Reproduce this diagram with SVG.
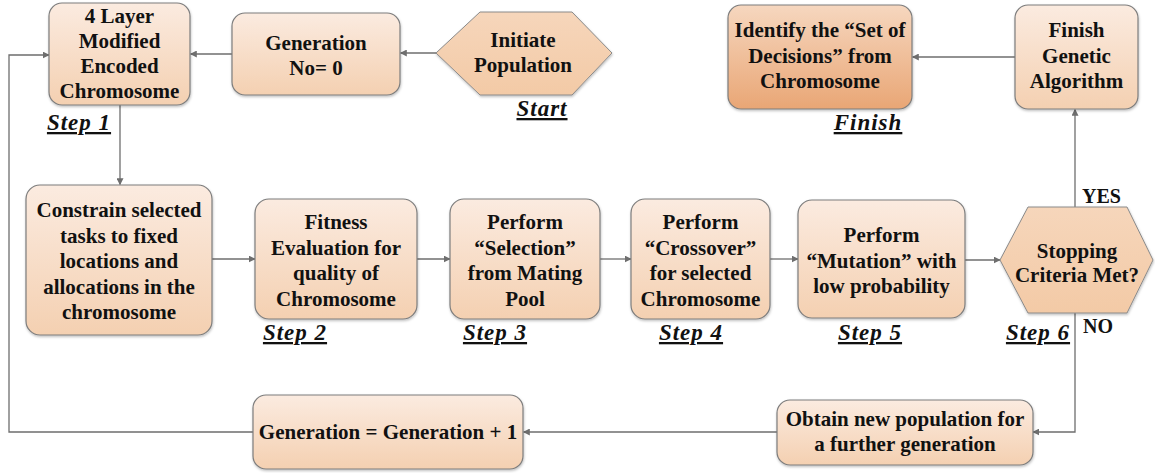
<svg xmlns="http://www.w3.org/2000/svg" width="1155" height="473" viewBox="0 0 1155 473">
  <defs>
    <linearGradient id="boxFill" x1="0" y1="0" x2="0" y2="1">
      <stop offset="0" stop-color="#fbebe0"/>
      <stop offset="1" stop-color="#f4d0b1"/>
    </linearGradient>
    <linearGradient id="hexFill" x1="0" y1="0" x2="0" y2="1">
      <stop offset="0" stop-color="#f6d6bb"/>
      <stop offset="1" stop-color="#f3caa6"/>
    </linearGradient>
    <linearGradient id="darkFill" x1="0" y1="0" x2="0" y2="1">
      <stop offset="0" stop-color="#f6d7bf"/>
      <stop offset="1" stop-color="#e9a675"/>
    </linearGradient>
    <filter id="shadow" x="-10%" y="-10%" width="120%" height="130%">
      <feDropShadow dx="0.5" dy="1.5" stdDeviation="1" flood-color="#000" flood-opacity="0.25"/>
    </filter>
    <marker id="arrow" viewBox="0 0 10 10" refX="9" refY="5" markerWidth="7" markerHeight="7" markerUnits="userSpaceOnUse" orient="auto">
      <path d="M0,0 L10,5 L0,10 Z" fill="#6e6e6e"/>
    </marker>
    <style>
      .box { fill: url(#boxFill); stroke: #7d7d7d; stroke-width: 1.2; filter: url(#shadow); }
      .hex { fill: url(#hexFill); stroke: #8a8a8a; stroke-width: 1; filter: url(#shadow); }
      .dark { fill: url(#darkFill); stroke: #7d7d7d; stroke-width: 1.2; filter: url(#shadow); }
      text { font-family: 'Liberation Serif', 'DejaVu Serif', serif; fill: #111; font-weight: bold; }
      .lbl { font-size: 21px; text-anchor: middle; }
      .step { font-style: italic; font-size: 23px; letter-spacing: 1px; text-anchor: middle; text-decoration: underline; }
      .yn { font-size: 20px; }
      .conn { fill: none; stroke: #6e6e6e; stroke-width: 1.3; marker-end: url(#arrow); }
    </style>
  </defs>

  <rect width="1155" height="473" fill="#ffffff"/>

  <!-- connectors -->
  <g id="connectors">
    <line class="conn" x1="436" y1="53" x2="400.5" y2="53"/>
    <line class="conn" x1="232" y1="54" x2="190.5" y2="54"/>
    <line class="conn" x1="120" y1="105" x2="120" y2="184.5"/>
    <line class="conn" x1="212" y1="259" x2="255" y2="259"/>
    <line class="conn" x1="417" y1="259" x2="450" y2="259"/>
    <line class="conn" x1="600" y1="259" x2="631" y2="259"/>
    <line class="conn" x1="770" y1="259" x2="798" y2="259"/>
    <line class="conn" x1="965" y1="260" x2="1000" y2="260"/>
    <line class="conn" x1="1075" y1="207" x2="1075" y2="109.5"/>
    <line class="conn" x1="1015" y1="57" x2="912.5" y2="57"/>
    <polyline class="conn" points="1075,313 1075,432 1033,432"/>
    <line class="conn" x1="777" y1="432" x2="523.5" y2="432"/>
    <polyline class="conn" points="253,432 9,432 9,55 49,55"/>
  </g>

  <!-- nodes -->
  <g id="chromosome">
    <rect class="box" x="49" y="3" width="141" height="102" rx="13"/>
    <text class="lbl" x="119.5" y="23">4 Layer</text>
    <text class="lbl" x="119.5" y="48">Modified</text>
    <text class="lbl" x="119.5" y="73">Encoded</text>
    <text class="lbl" x="119.5" y="98">Chromosome</text>
    <text class="step" x="79" y="130">Step 1</text>
  </g>

  <g id="generation-zero">
    <rect class="box" x="232" y="13" width="168" height="82" rx="13"/>
    <text class="lbl" x="316" y="50">Generation</text>
    <text class="lbl" x="316" y="75">No= 0</text>
  </g>

  <g id="initiate">
    <polygon class="hex" points="436,53 480,12 572,12 612,53 572,95 480,95"/>
    <text class="lbl" x="523" y="47">Initiate</text>
    <text class="lbl" x="523" y="72">Population</text>
    <text class="step" x="542" y="116">Start</text>
  </g>

  <g id="identify">
    <rect class="dark" x="728" y="5" width="184" height="104" rx="13"/>
    <text class="lbl" x="820" y="37">Identify the “Set of</text>
    <text class="lbl" x="820" y="63">Decisions” from</text>
    <text class="lbl" x="820" y="88">Chromosome</text>
    <text class="step" x="868" y="130">Finish</text>
  </g>

  <g id="finish-ga">
    <rect class="box" x="1015" y="5" width="123" height="104" rx="13"/>
    <text class="lbl" x="1076.5" y="37">Finish</text>
    <text class="lbl" x="1076.5" y="63">Genetic</text>
    <text class="lbl" x="1076.5" y="88">Algorithm</text>
  </g>

  <g id="constrain">
    <rect class="box" x="26" y="185" width="186" height="150" rx="14"/>
    <text class="lbl" x="119" y="217">Constrain selected</text>
    <text class="lbl" x="119" y="242.5">tasks to fixed</text>
    <text class="lbl" x="119" y="268">locations and</text>
    <text class="lbl" x="119" y="293.5">allocations in the</text>
    <text class="lbl" x="119" y="319">chromosome</text>
  </g>

  <g id="fitness">
    <rect class="box" x="255" y="199" width="162" height="120" rx="14"/>
    <text class="lbl" x="336" y="229">Fitness</text>
    <text class="lbl" x="336" y="254.5">Evaluation for</text>
    <text class="lbl" x="336" y="280">quality of</text>
    <text class="lbl" x="336" y="305.5">Chromosome</text>
    <text class="step" x="295" y="340">Step 2</text>
  </g>

  <g id="selection">
    <rect class="box" x="450" y="199" width="150" height="120" rx="14"/>
    <text class="lbl" x="525" y="229">Perform</text>
    <text class="lbl" x="525" y="254.5">“Selection”</text>
    <text class="lbl" x="525" y="280">from Mating</text>
    <text class="lbl" x="525" y="305.5">Pool</text>
    <text class="step" x="495" y="340">Step 3</text>
  </g>

  <g id="crossover">
    <rect class="box" x="631" y="199" width="139" height="120" rx="14"/>
    <text class="lbl" x="700.5" y="229">Perform</text>
    <text class="lbl" x="700.5" y="254.5">“Crossover”</text>
    <text class="lbl" x="700.5" y="280">for selected</text>
    <text class="lbl" x="700.5" y="305.5">Chromosome</text>
    <text class="step" x="691" y="340">Step 4</text>
  </g>

  <g id="mutation">
    <rect class="box" x="798" y="200" width="167" height="118" rx="14"/>
    <text class="lbl" x="881.5" y="242">Perform</text>
    <text class="lbl" x="881.5" y="267.5">“Mutation” with</text>
    <text class="lbl" x="881.5" y="293">low probability</text>
    <text class="step" x="870" y="340">Step 5</text>
  </g>

  <g id="stopping">
    <polygon class="hex" points="1000,260 1028,207 1127,207 1153,260 1127,313 1028,313"/>
    <text class="lbl" x="1077" y="258">Stopping</text>
    <text class="lbl" x="1077" y="282">Criteria Met?</text>
    <text class="step" x="1038" y="340">Step 6</text>
    <text class="yn" x="1082" y="203">YES</text>
    <text class="yn" x="1083" y="333">NO</text>
  </g>

  <g id="obtain">
    <rect class="box" x="777" y="400" width="256" height="65" rx="13"/>
    <text class="lbl" x="905" y="426">Obtain new population for</text>
    <text class="lbl" x="905" y="451">a further generation</text>
  </g>

  <g id="generation-next">
    <rect class="box" x="253" y="395" width="270" height="74" rx="13"/>
    <text class="lbl" x="388" y="439">Generation = Generation + 1</text>
  </g>
</svg>
